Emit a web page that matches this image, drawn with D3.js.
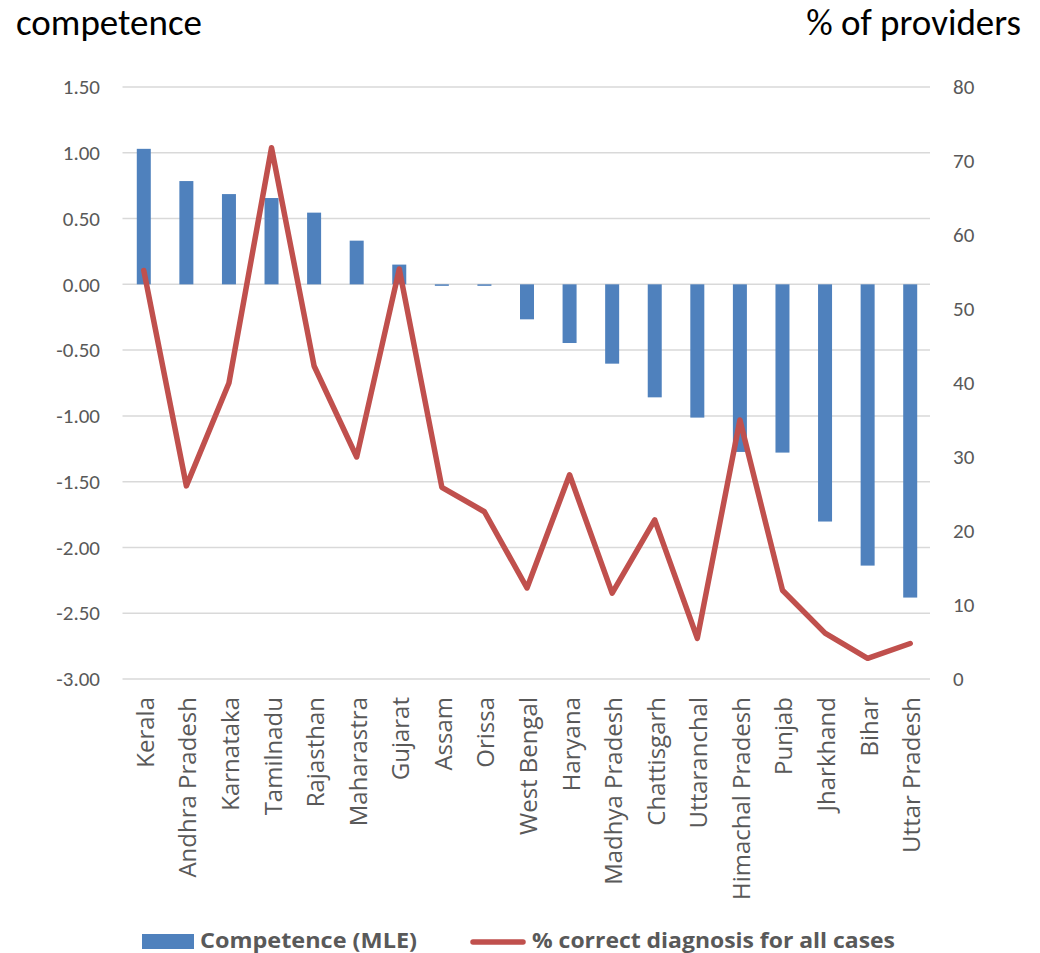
<!DOCTYPE html>
<html><head><meta charset="utf-8">
<script src="https://cdn.jsdelivr.net/npm/d3@7"></script>
<style>body{margin:0;background:#fff;} svg{display:block;}</style>
</head><body><div id="chart"></div>
<script>
const categories = ["Kerala","Andhra Pradesh","Karnataka","Tamilnadu","Rajasthan","Maharastra","Gujarat","Assam","Orissa","West Bengal","Haryana","Madhya Pradesh","Chattisgarh","Uttaranchal","Himachal Pradesh","Punjab","Jharkhand","Bihar","Uttar Pradesh"];
const competence = [1.03,0.785,0.686,0.656,0.545,0.332,0.15,-0.01,-0.01,-0.266,-0.446,-0.603,-0.859,-1.013,-1.274,-1.279,-1.803,-2.138,-2.381];
const pctCorrect = [55.2,26.1,40.0,71.8,42.3,30.0,55.4,25.9,22.6,12.3,27.6,11.6,21.5,5.5,35.0,12.0,6.2,2.8,4.8];
const leftTicks = [1.5,1.0,0.5,0.0,-0.5,-1.0,-1.5,-2.0,-2.5,-3.0];
const rightTicks = [80,70,60,50,40,30,20,10,0];
const seriesNames = ["Competence (MLE)","% correct diagnosis for all cases"];

const W=1040,H=953;
const svg=d3.select("#chart").append("svg").attr("width",W).attr("height",H);
const x=d3.scaleBand().domain(categories).range([122.5,931.5]);
const yL=d3.scaleLinear().domain([-3,1.5]).range([679,87]);
const yR=d3.scaleLinear().domain([0,80]).range([679,87]);
const numFont="Carlito, Lato, 'Open Sans', sans-serif";
const fmt=d3.formatLocale({decimal:".",thousands:",",grouping:[3],currency:["",""],minus:"-"}).format(".2f");

// gridlines
svg.append("g").selectAll("line").data(leftTicks).join("line")
  .attr("x1",122.5).attr("x2",930).attr("y1",d=>yL(d)).attr("y2",d=>yL(d))
  .attr("stroke","#d9d9d9").attr("stroke-width",1.5);

// left axis
const axL=svg.append("g").attr("transform","translate(122,0)")
  .call(d3.axisLeft(yL).tickValues(leftTicks).tickFormat(fmt).tickSize(0).tickPadding(22));
axL.select(".domain").remove();
axL.selectAll("text").attr("font-family",numFont).attr("font-size",21).attr("fill","#595959");
// right axis
const axR=svg.append("g").attr("transform","translate(930,0)")
  .call(d3.axisRight(yR).tickValues(rightTicks).tickSize(0).tickPadding(23));
axR.select(".domain").remove();
axR.selectAll("text").attr("font-family",numFont).attr("font-size",21).attr("fill","#595959");

// bars
const bw=14;
svg.append("g").selectAll("rect").data(competence).join("rect")
  .attr("x",(d,i)=>x(categories[i])+x.bandwidth()/2-bw/2)
  .attr("width",bw)
  .attr("y",d=>Math.min(yL(d),yL(0)))
  .attr("height",d=>Math.max(1.5,Math.abs(yL(d)-yL(0))))
  .attr("fill","#4f81bd");

// line
const line=d3.line().x((d,i)=>x(categories[i])+x.bandwidth()/2).y(d=>yR(d));
svg.append("path").datum(pctCorrect).attr("d",line).attr("fill","none")
  .attr("stroke","#c0504d").attr("stroke-width",5.5).attr("stroke-linejoin","round").attr("stroke-linecap","round");

// category labels
svg.append("g").selectAll("text").data(categories).join("text")
  .attr("transform",d=>`translate(${x(d)+x.bandwidth()/2+10},697) rotate(-90)`)
  .attr("text-anchor","end").attr("font-family","'Open Sans', sans-serif").attr("font-size",24)
  .attr("fill","#595959").text(d=>d);

// axis titles
svg.append("text").attr("x",16).attr("y",35).attr("font-family",numFont).attr("font-size",37).attr("fill","#000").text("competence");
svg.append("text").attr("x",1021).attr("y",35).attr("text-anchor","end").attr("font-family",numFont).attr("font-size",37).attr("fill","#000").text("% of providers");

// legend
svg.append("rect").attr("x",142).attr("y",934).attr("width",52).attr("height",15).attr("fill","#4f81bd");
svg.append("text").attr("x",200).attr("y",948).attr("font-family","'Open Sans', sans-serif").attr("font-size",22).attr("font-weight","bold").attr("fill","#595959")
  .attr("textLength",217).attr("lengthAdjust","spacingAndGlyphs").text(seriesNames[0]);
svg.append("line").attr("x1",473).attr("x2",523).attr("y1",942).attr("y2",942).attr("stroke","#c0504d").attr("stroke-width",5.5).attr("stroke-linecap","round");
svg.append("text").attr("x",532).attr("y",948).attr("font-family","'Open Sans', sans-serif").attr("font-size",22).attr("font-weight","bold").attr("fill","#595959")
  .attr("textLength",363).attr("lengthAdjust","spacingAndGlyphs").text(seriesNames[1]);
</script></body></html>
